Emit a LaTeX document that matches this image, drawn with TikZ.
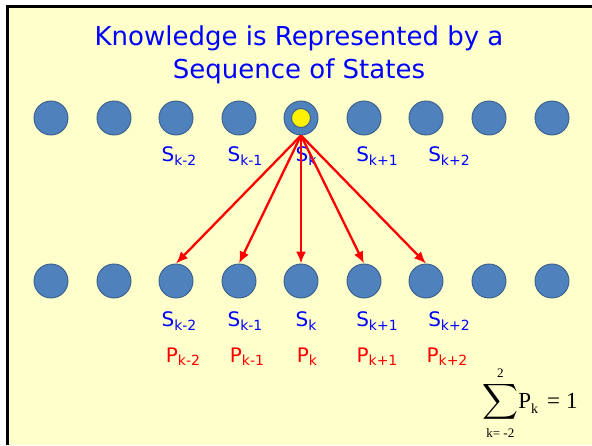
\documentclass[tikz,border=0pt]{standalone}
\usepackage{exscale}
\usepackage{fontspec}
\setmainfont{DejaVu Sans}
\newfontfamily\timesfont{Liberation Serif}
\usetikzlibrary{arrows.meta}

\definecolor{slide}{RGB}{255,255,204}
\definecolor{ball}{RGB}{79,129,189}
\definecolor{balledge}{RGB}{56,93,138}
\newcommand\idx[1]{\raisebox{-0.3ex}{\fontsize{14}{14}\selectfont #1}}

\tikzset{
  state/.style={circle, fill=ball, draw=balledge, line width=0.9pt, minimum size=34pt, inner sep=0pt},
  curstate/.style={circle, fill=yellow, draw=balledge, line width=0.9pt, minimum size=19pt, inner sep=0pt},
  slabel/.style={text=blue, font=\fontsize{20}{20}\selectfont, inner sep=0pt},
  plabel/.style={text=red, font=\fontsize{20}{20}\selectfont, inner sep=0pt},
  trans/.style={red, line width=2.3pt, -{Latex[length=12pt,width=10pt]}}
}

\begin{document}
\begin{tikzpicture}[x=1pt,y=-1pt]
    \useasboundingbox (0,0) rectangle (592,445);
    \fill[white] (0,0) rectangle (592,445);
    \fill[slide] (7,7) rectangle (592,445);
    \draw[line width=2.6pt] (7.3,445) -- (7.3,6.5) -- (592,6.5);
    % title
    \node[text=blue, font=\fontsize{26}{33}\selectfont, align=center] (title) at (299,55)
        {Knowledge is Represented by a\\Sequence of States};
    % two rows of states
    \foreach \x [count=\i] in {51,114,176,239,301,364,426,489,552} {
        \node[state] (t\i) at (\x,118) {};
        \node[state] (b\i) at (\x,281) {};
    }
    \node[curstate] (cur) at (t5) {};
    % labels
    \foreach \x/\k [count=\i from 3] in {179/k-2,245/k-1,306/k,377/k+1,449/k+2} {
        \node[slabel] (st\i) at (\x,156) {S\idx{\k}};
        \node[slabel] (sb\i) at (\x,321) {S\idx{\k}};
    }
    \foreach \x/\k [count=\i from 3] in {183/k-2,247/k-1,307/k,377/k+1,447/k+2}
        \node[plabel] (pb\i) at (\x,357) {P\idx{\k}};
    % transitions
    \foreach \i in {3,...,7}
        \draw[trans] (t5.south) -- (b\i.north);
    % normalisation
    \node[font=\fontsize{23}{23}\timesfont, inner sep=0pt] (norm) at (530,403)
        {$\displaystyle\sum_{\mbox{\fontsize{13}{13}\timesfont k= -2}}^{\mbox{\fontsize{13}{13}\timesfont 2}}$P\raisebox{-0.5ex}{\fontsize{14}{14}\timesfont k}\hspace{9pt}=\hspace{6pt}1};
\end{tikzpicture}
\end{document}
